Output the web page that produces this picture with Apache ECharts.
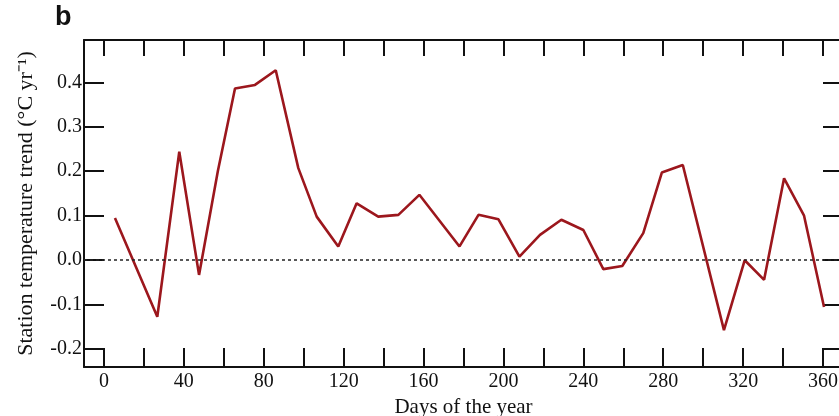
<!DOCTYPE html>
<html lang="en">
<head>
    <meta charset="UTF-8">
    <title>Station temperature trend</title>
    <script src="https://cdn.jsdelivr.net/npm/echarts@6/dist/echarts.min.js"></script>
    <style>
        html, body { margin: 0; padding: 0; background: #fff; }
        .demo { width: 839px; height: 416px; }
    </style>
</head>
<body>
    <div class="demo"></div>
    <script>
        // vertices: day of year, trend in degC/yr
        var days = [5.5, 26.7, 37.7, 47.6, 57, 65.6, 75.6, 86, 97.3, 106.5, 117.3, 126.5,
            137.3, 147.4, 157.9, 178, 187.5, 197.5, 208, 218.3, 229, 240, 250, 259.5,
            270, 279.3, 289.8, 310.4, 320.8, 330.5, 340.5, 350.5, 360.5]
        var trend = [0.095, -0.127, 0.244, -0.033, 0.2, 0.386, 0.394, 0.427, 0.207, 0.098, 0.031, 0.128,
            0.098, 0.102, 0.147, 0.031, 0.102, 0.092, 0.008, 0.057, 0.091, 0.068, -0.02, -0.013,
            0.061, 0.197, 0.214, -0.157, 0.0, -0.044, 0.184, 0.1, -0.105]
        var xTicks = [0, 20, 40, 60, 80, 100, 120, 140, 160, 180, 200, 220, 240, 260, 280, 300, 320, 340, 360]
        var xLabels = [0, 40, 80, 120, 160, 200, 240, 280, 320, 360]
        var yTicks = [-0.2, -0.1, 0, 0.1, 0.2, 0.3, 0.4]
        var xRange = [-10, 370]
        var yRange = [-0.24, 0.495]

        var data = []
        for (var i = 0; i < days.length; i++) {
            data.push([days[i], trend[i]])
        }

        var serif = 'Liberation Serif'
        var frame = { show: true, onZero: false, lineStyle: { color: '#111', width: 2 } }

        var div = echarts.init(document.querySelector('.demo'))
        var option = {
            animation: false,
            graphic: [{
                type: 'text',
                left: 55,
                top: 4,
                style: { text: 'b', font: 'bold 27px "Liberation Sans"', fill: '#111' }
            }],
            grid: {
                left: 84,
                top: 40,
                width: 759,
                height: 327,
                outerBoundsMode: 'none',
                containLabel: false,
                show: false
            },
            xAxis: [{
                type: 'value',
                min: xRange[0],
                max: xRange[1],
                position: 'bottom',
                name: 'Days of the year',
                nameLocation: 'middle',
                nameGap: 24,
                nameTextStyle: { fontFamily: serif, fontSize: 21, color: '#111' },
                axisLine: frame,
                axisTick: { inside: true, length: 19, customValues: xTicks, lineStyle: { color: '#111', width: 2 } },
                axisLabel: { customValues: xLabels, margin: 5, fontFamily: serif, fontSize: 20, color: '#111' },
                splitLine: { show: false }
            }, {
                type: 'value',
                min: xRange[0],
                max: xRange[1],
                position: 'top',
                axisLine: frame,
                axisTick: { inside: true, length: 16, customValues: xTicks, lineStyle: { color: '#111', width: 2 } },
                axisLabel: { show: false },
                splitLine: { show: false }
            }],
            yAxis: [{
                type: 'value',
                min: yRange[0],
                max: yRange[1],
                position: 'left',
                name: 'Station temperature trend (°C yr⁻¹)',
                nameLocation: 'middle',
                nameGap: 47,
                nameTextStyle: { fontFamily: serif, fontSize: 22, color: '#111' },
                axisLine: frame,
                axisTick: { inside: true, length: 20, customValues: yTicks, lineStyle: { color: '#111', width: 2 } },
                axisLabel: {
                    customValues: yTicks,
                    margin: 2,
                    fontFamily: serif,
                    fontSize: 20,
                    color: '#111',
                    formatter: function (v) { return v.toFixed(1) }
                },
                splitLine: { show: false }
            }, {
                type: 'value',
                min: yRange[0],
                max: yRange[1],
                position: 'right',
                axisLine: frame,
                axisTick: { inside: true, length: 20, customValues: yTicks, lineStyle: { color: '#111', width: 2 } },
                axisLabel: { show: false },
                splitLine: { show: false }
            }],
            series: [{
                name: 'trend',
                type: 'line',
                xAxisIndex: 0,
                yAxisIndex: 0,
                data: data,
                showSymbol: false,
                lineStyle: { color: '#9c171d', width: 2.6 },
                markLine: {
                    silent: true,
                    symbol: 'none',
                    label: { show: false },
                    lineStyle: { color: '#222', type: [3, 3], width: 1.5 },
                    data: [[{ coord: [xRange[0], 0] }, { coord: [xRange[1], 0] }]]
                }
            }]
        }

        div.setOption(option)
    </script>
</body>
</html>
